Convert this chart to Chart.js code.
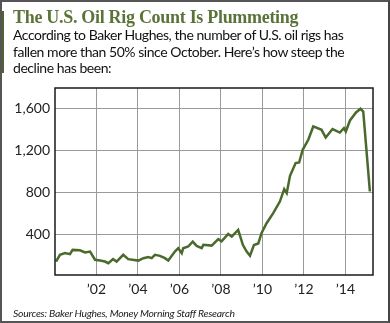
<!DOCTYPE html>
<html>
<head>
<meta charset="utf-8">
<script src="https://cdn.jsdelivr.net/npm/chart.js@4"></script>
<style>
  html, body { margin: 0; padding: 0; background: #fff; }
  #frame {
    position: relative; width: 390px; height: 323px; overflow: hidden;
    box-sizing: border-box; border: 2px solid #555; border-right-color: #444;
  }
  #bar { position: absolute; left: -2px; top: 9px; width: 4px; height: 62px; background: #4e6233; }
  #title {
    position: absolute; left: 11px; top: 5px; white-space: nowrap; letter-spacing: -0.3px;
    font: bold 18px "Liberation Serif", "DejaVu Serif", serif; color: #5b7339;
  }
  #sub {
    position: absolute; left: 11px; top: 25px; white-space: nowrap; letter-spacing: -0.45px;
    font: 14px "Lato", "Open Sans", sans-serif; line-height: 16.5px; color: #111;
  }
  #src {
    position: absolute; left: 11px; top: 305px; white-space: nowrap; letter-spacing: -0.25px;
    font: italic 10.4px "Lato", "Open Sans", sans-serif; color: #222;
  }
  #wrap { position: absolute; left: -2px; top: -2px; width: 390px; height: 323px; }
</style>
</head>
<body>
<div id="frame">
  <div id="wrap"><canvas id="rigChart" width="390" height="323"></canvas></div>
  <div id="bar"></div>
  <div id="title">The U.S. Oil Rig Count Is Plummeting</div>
  <div id="sub">According to Baker Hughes, the number of U.S. oil rigs has<br>fallen more than 50% since October. Here’s how steep the<br>decline has been:</div>
  <div id="src">Sources: Baker Hughes, Money Morning Staff Research</div>
</div>
<script>
// data (decimal year, rig count)
const years = [
  2000.05, 2000.24, 2000.48, 2000.72, 2000.85, 2001.20, 2001.45, 2001.69, 2001.93,
  2002.17, 2002.41, 2002.57, 2002.80, 2002.97, 2003.29, 2003.53, 2004.02, 2004.26,
  2004.50, 2004.66, 2004.82, 2005.06, 2005.30, 2005.46, 2005.78, 2005.94, 2006.11,
  2006.18, 2006.42, 2006.64, 2006.83, 2007.07, 2007.15, 2007.55, 2007.87, 2008.03,
  2008.35, 2008.52, 2008.83, 2009.06, 2009.24, 2009.40, 2009.59, 2009.80, 2009.96,
  2010.20, 2010.52, 2010.84, 2011.05, 2011.17, 2011.33, 2011.60, 2011.77, 2011.94,
  2012.21, 2012.45, 2012.85, 2013.05, 2013.38, 2013.73, 2013.93, 2014.02, 2014.22,
  2014.51, 2014.73, 2014.86, 2015.18
];
const rigCounts = [
  143, 207, 223, 213, 254, 250, 230, 238, 160,
  152, 143, 127, 166, 143, 207, 166, 152, 175,
  185, 175, 207, 197, 175, 152, 238, 270, 223,
  270, 286, 333, 292, 270, 302, 295, 356, 335,
  405, 381, 445, 300, 238, 198, 300, 315, 415,
  508, 604, 714, 832, 794, 959, 1080, 1086, 1207,
  1302, 1429, 1397, 1324, 1404, 1371, 1413, 1381, 1486,
  1562, 1597, 1571, 810
];
const xTicks = [2002, 2004, 2006, 2008, 2010, 2012, 2014];
const yTicks = [400, 800, 1200, 1600];

const points = years.map((y, i) => ({ x: y, y: rigCounts[i] }));

// box round the plot area
const boxPlugin = {
  id: "box",
  afterDraw(chart) {
    const a = chart.chartArea, ctx = chart.ctx;
    ctx.save();
    ctx.strokeStyle = "#1a1a1a";
    ctx.lineWidth = 1.5;
    ctx.strokeRect(a.left, a.top, a.right - a.left, a.bottom - a.top);
    ctx.restore();
  }
};

new Chart(document.getElementById("rigChart"), {
  type: "line",
  data: {
    datasets: [{
      data: points,
      borderColor: "#4a6a2b",
      borderWidth: 2.5,
      pointRadius: 0,
      tension: 0,
      fill: false
    }]
  },
  options: {
    responsive: false,
    animation: false,
    devicePixelRatio: 1,
    layout: { padding: { top: 88, right: 17, left: 0, bottom: 0 } },
    plugins: { legend: { display: false }, tooltip: { enabled: false } },
    scales: {
      x: {
        type: "linear",
        min: 2000,
        max: 2015.33,
        afterBuildTicks: s => { s.ticks = xTicks.map(v => ({ value: v })); },
        afterFit: s => { s.height = 48; },
        grid: { color: "#9a9a9a", lineWidth: 1, drawTicks: false },
        border: { display: false },
        ticks: {
          padding: 6,
          color: "#222",
          font: { family: "Lato, 'Open Sans', sans-serif", size: 14 },
          callback: v => "’" + String(v).slice(2)
        }
      },
      y: {
        min: 15,
        max: 1795,
        afterBuildTicks: s => { s.ticks = yTicks.map(v => ({ value: v })); },
        afterFit: s => { s.width = 55; },
        grid: { color: "#9a9a9a", lineWidth: 1, drawTicks: false },
        border: { display: false },
        ticks: {
          padding: 5,
          color: "#222",
          font: { family: "Lato, 'Open Sans', sans-serif", size: 14 },
          callback: v => v.toLocaleString("en-US")
        }
      }
    }
  },
  plugins: [boxPlugin]
});
</script>
</body>
</html>
